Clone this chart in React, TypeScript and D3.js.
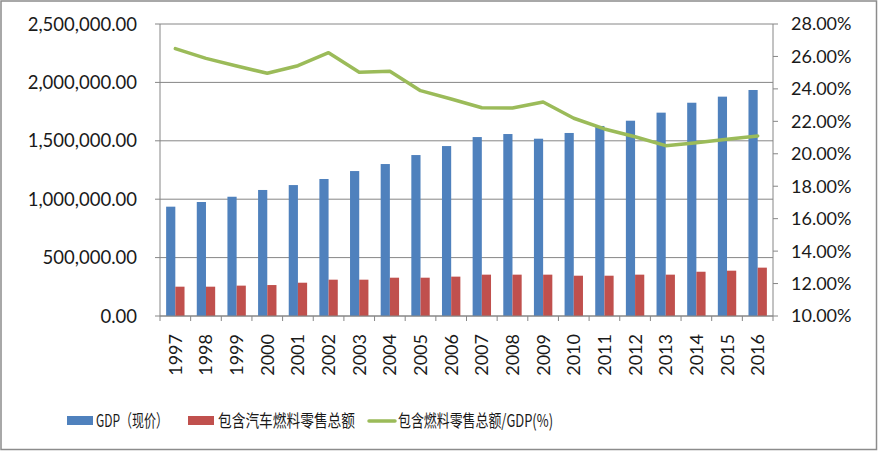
import React from "react";
import * as d3 from "d3";

const years = ["1997","1998","1999","2000","2001","2002","2003","2004","2005","2006","2007","2008","2009","2010","2011","2012","2013","2014","2015","2016"];
const gdp = [936000,976000,1021000,1079000,1121000,1173000,1241000,1301000,1378000,1455000,1532000,1558000,1518000,1567000,1627000,1672000,1741000,1826000,1878000,1935000];
const fuelRetail = [251000,251000,260000,265000,285000,311000,311000,328000,328000,337000,354000,354000,354000,345000,345000,354000,354000,379000,388000,414000];
const ratioPct = [26.48,25.88,25.41,24.96,25.43,26.23,25.02,25.09,23.89,23.38,22.84,22.82,23.19,22.19,21.53,21.05,20.5,20.68,20.89,21.1];
const leftTicks = [0,500000,1000000,1500000,2000000,2500000];
const rightTicks = [10,12,14,16,18,20,22,24,26,28];
const legendLabels = ["GDP（现价）","包含汽车燃料零售总额","包含燃料零售总额/GDP(%)"];

const W = 878, H = 451;
const L = 160, R = 773, T = 24, B = 316;
const BLUE = "#4F81BD", RED = "#C0504D", GREEN = "#9BBB59", GRID = "#868686";
const FONT = "Lato, 'Noto Sans', sans-serif";
const CJK = "'Noto Sans CJK SC', 'Noto Sans', sans-serif";

export default function App() {
  const x = d3.scaleBand<string>().domain(years).range([L, R]).paddingInner(0).paddingOuter(0);
  const yL = d3.scaleLinear().domain([0, 2500000]).range([B, T]);
  const yR = d3.scaleLinear().domain([10, 28]).range([B, T]);
  const bw = x.bandwidth() * 0.3;
  const cx = (y: string) => (x(y) as number) + x.bandwidth() / 2;
  const fmtL = (v: number) => d3.format(",.2f")(v);
  const line = d3.line<number>().x((_, i) => cx(years[i])).y((d) => yR(d));

  return (
    <svg width={W} height={H} style={{ position: "absolute", left: 0, top: 0, display: "block", background: "#fff" }}>
      <rect x={1} y={1} width={W - 2.5} height={H - 2.5} fill="#fff" stroke="#8c8c8c" strokeWidth={1.5} />
      {leftTicks.map((t) => (
        <g key={"l" + t}>
          <line x1={L} x2={R} y1={yL(t)} y2={yL(t)} stroke={GRID} strokeWidth={1} />
          <line x1={L - 5} x2={L} y1={yL(t)} y2={yL(t)} stroke={GRID} strokeWidth={1} />
          <text x={137} y={yL(t)} dy="0.36em" textAnchor="end" fontFamily={FONT} fontSize={18.5} fill="#1a1a1a">{fmtL(t)}</text>
        </g>
      ))}
      {rightTicks.map((t) => (
        <g key={"r" + t}>
          <line x1={R} x2={R + 5} y1={yR(t)} y2={yR(t)} stroke={GRID} strokeWidth={1} />
          <text x={791} y={yR(t)} dy="0.36em" textAnchor="start" fontFamily={FONT} fontSize={18} fill="#1a1a1a">{t.toFixed(2) + "%"}</text>
        </g>
      ))}
      {years.map((yr, i) => (
        <g key={yr}>
          <rect x={cx(yr) - bw} y={yL(gdp[i])} width={bw} height={B - yL(gdp[i])} fill={BLUE} />
          <rect x={cx(yr)} y={yL(fuelRetail[i])} width={bw} height={B - yL(fuelRetail[i])} fill={RED} />
        </g>
      ))}
      <line x1={L} x2={L} y1={T} y2={B} stroke={GRID} strokeWidth={1} />
      <line x1={R} x2={R} y1={T} y2={B} stroke={GRID} strokeWidth={1} />
      <line x1={L} x2={R} y1={B} y2={B} stroke={GRID} strokeWidth={1} />
      {years.concat(["end"]).map((yr, i) => {
        const xx = L + i * x.bandwidth();
        return <line key={"xt" + i} x1={xx} x2={xx} y1={B} y2={B + 5} stroke={GRID} strokeWidth={1} />;
      })}
      {years.map((yr) => (
        <text key={"xl" + yr} transform={`translate(${cx(yr)},334) rotate(-90)`} dy="0.36em" textAnchor="end" fontFamily={FONT} fontSize={18} fill="#1a1a1a">{yr}</text>
      ))}
      <path d={line(ratioPct) || ""} fill="none" stroke={GREEN} strokeWidth={3.5} strokeLinejoin="round" strokeLinecap="round" />
      <g>
        <rect x={67} y={416} width={26} height={9} fill={BLUE} />
        <text x={96} y={421} dy="0.36em" fontFamily={CJK} fontSize={17.5} textLength={72} lengthAdjust="spacingAndGlyphs" fill="#1a1a1a">{legendLabels[0]}</text>
        <rect x={188} y={416} width={26} height={9} fill={RED} />
        <text x={218} y={421} dy="0.36em" fontFamily={CJK} fontSize={17.5} textLength={137} lengthAdjust="spacingAndGlyphs" fill="#1a1a1a">{legendLabels[1]}</text>
        <line x1={369} x2={395} y1={421} y2={421} stroke={GREEN} strokeWidth={3.5} strokeLinecap="round" />
        <text x={398} y={421} dy="0.36em" fontFamily={CJK} fontSize={17.5} textLength={155} lengthAdjust="spacingAndGlyphs" fill="#1a1a1a">{legendLabels[2]}</text>
      </g>
    </svg>
  );
}
